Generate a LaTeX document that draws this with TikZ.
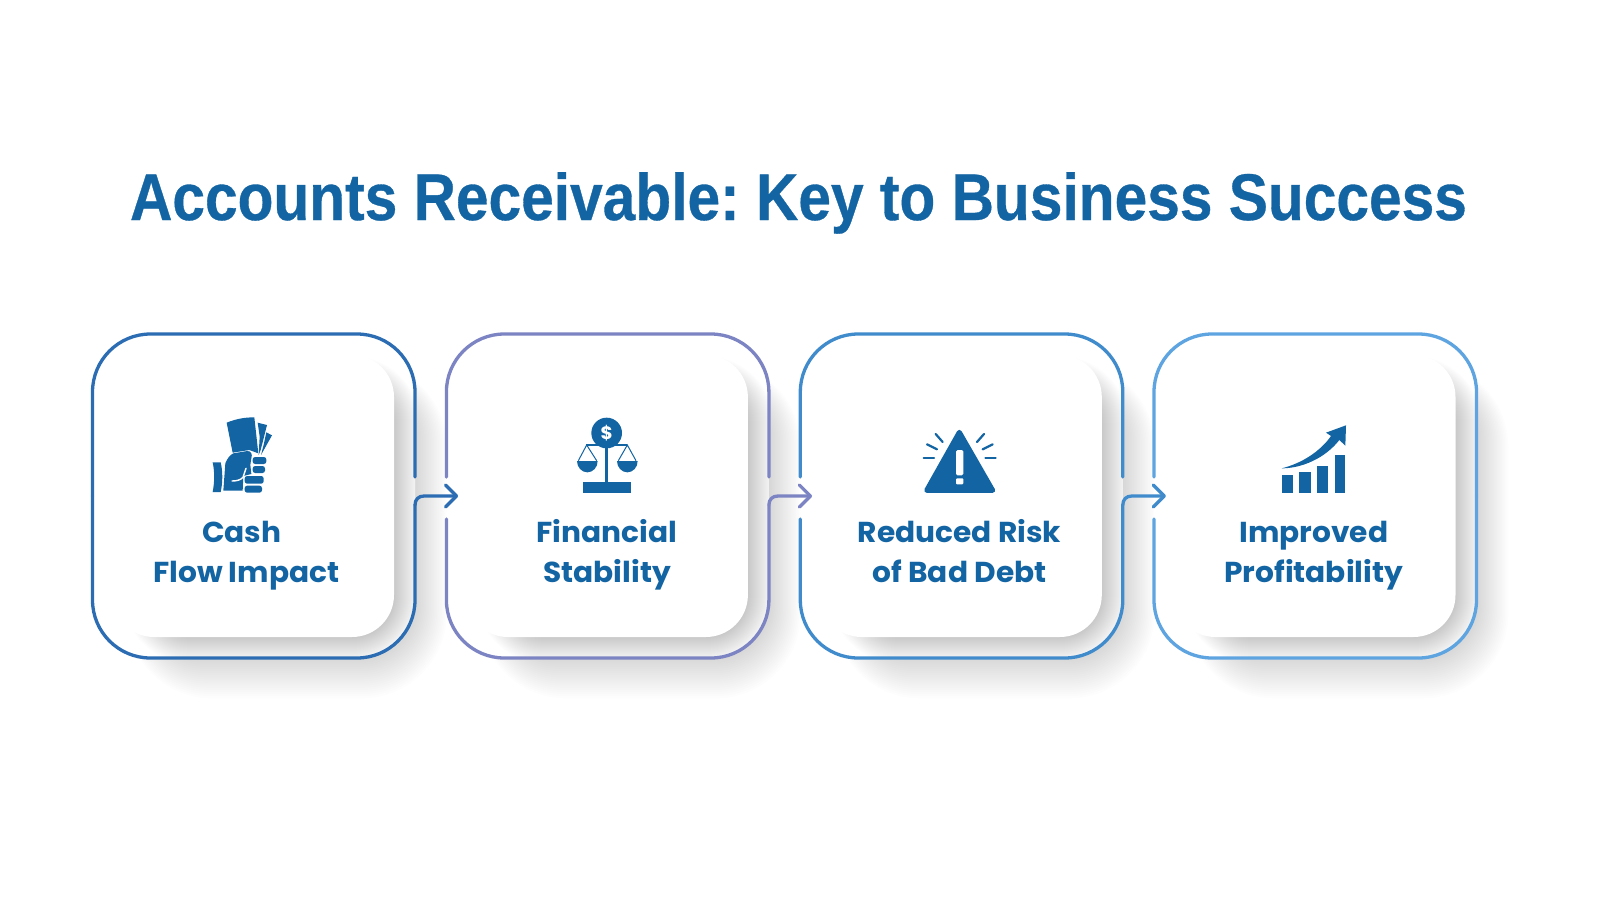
\documentclass[tikz,border=0pt]{standalone}
\usepackage{fontspec}
\setmainfont{Liberation Sans}[FakeStretch=0.889,BoldFeatures={FakeBold=0.5}]
\newfontfamily\labelfont{Poppins}[FakeStretch=1.03]
\definecolor{inkblue}{HTML}{1264A3}
\definecolor{cA}{HTML}{2B6CB3}
\definecolor{cB}{HTML}{7C84C3}
\definecolor{cC}{HTML}{408BCC}
\definecolor{cD}{HTML}{5DA4E1}
\tikzset{
  innercard/.style={fill=white,minimum width=282pt,minimum height=282pt,rounded corners=42pt,inner sep=0pt,draw=none},
  cardlabel/.style={text=inkblue,align=center,anchor=base,inner sep=0pt,font=\labelfont\bfseries\fontsize{28.8}{40}\selectfont},
  titletext/.style={text=inkblue,anchor=base,inner sep=0pt,font=\bfseries\frenchspacing\fontsize{66}{70}\selectfont},
  outline/.style={line width=3.3pt,line cap=round,line join=round},
  ink/.style={fill=inkblue,draw=none},
  rayline/.style={draw=inkblue,line width=2.2pt,line cap=round},
}
% soft shadow cast outside a card
\newcommand{\outershadow}[1]{%
  \begin{scope}[shift={(#1,0)}]
    \foreach \i in {0,...,23}{
      \pgfmathsetmacro\rr{50+1.5*\i}
      \fill[black,fill opacity=.0065,rounded corners=\rr pt]
        (150-1.0*\i,385-1.0*\i) rectangle (410+1.6*\i,650+2.1*\i);
    }
  \end{scope}}
% white card area, inner shadow
\newcommand{\cardbase}[1]{%
  \begin{scope}[shift={(#1,0)}]
    \begin{scope}
      \clip[rounded corners=58pt] (92.5,334) rectangle (415,658);
      \fill[white] (92,334) rectangle (416,658);
      \foreach \i in {0,...,27}{
        \pgfmathsetmacro\rr{42+\i}
        \fill[black,fill opacity=.0095,rounded corners=\rr pt]
          (150-1.0*\i,382-.95*\i) rectangle (394+\i,637+\i);
      }
    \end{scope}
  \end{scope}}
% outline: #1 shift, #2 colour, #3 gap at left, #4 arrow on the right, #5 id
\newcommand{\cardline}[5]{%
  \begin{scope}[shift={(#1,0)}]
    \ifnum#3=1 \def\leftA{477}\def\leftB{519}\else \def\leftA{496}\def\leftB{496}\fi
    \ifnum#4=1 \def\rightA{477}\def\rightB{505}\else \def\rightA{496}\def\rightB{496}\fi
    \draw[outline,draw=#2,rounded corners=58pt] (92.5,\leftA) -- (92.5,334) -- (415,334) -- (415,\rightA);
    \draw[outline,draw=#2,rounded corners=58pt] (92.5,\leftB) -- (92.5,658) -- (415,658) -- (415,\rightB);
    \ifnum#4=1
      \coordinate (arrowstart#5) at (415,505);
      \coordinate (arrowtip#5) at (456.5,496);
      \coordinate (barbtop#5) at (445.5,485);
      \coordinate (barbbot#5) at (445.5,507);
      \draw[outline,draw=#2] (arrowstart#5) .. controls (415,499.5) and (418.5,496) .. (424,496) -- (arrowtip#5);
      \draw[outline,draw=#2] (barbtop#5) -- (arrowtip#5) -- (barbbot#5);
    \fi
  \end{scope}}
\begin{document}
\begin{tikzpicture}[x=1pt,y=-1pt]
\useasboundingbox (0,0) rectangle (1600,900);
\fill[white] (0,0) rectangle (1600,900);

\node[titletext] (title) at (798.5,220) {Accounts Receivable: Key to Business Success};

\begin{scope}
  \clip (0,0) rectangle (1510,900);
  \outershadow{0}
  \outershadow{353.9}
  \outershadow{707.8}
  \outershadow{1061.5}
\end{scope}

\cardbase{0}
\cardbase{353.9}
\cardbase{707.8}
\cardbase{1061.5}

\node[innercard] (card1) at (253,496) {};
\node[innercard] (card2) at (606.9,496) {};
\node[innercard] (card3) at (960.8,496) {};
\node[innercard] (card4) at (1314.5,496) {};

\cardline{0}{cA}{0}{1}{1}
\cardline{353.9}{cB}{1}{1}{2}
\cardline{707.8}{cC}{1}{1}{3}
\cardline{1061.5}{cD}{1}{0}{4}

\node[cardlabel] (label1) at (246.3,582) {Cash\hspace*{9pt}\\Flow Impact};
\node[cardlabel] (label2) at (607,582) {Financial\\Stability};
\node[cardlabel] (label3) at (959.5,582) {Reduced Risk\\of Bad Debt};
\node[cardlabel] (label4) at (1313.7,582) {Improved\\Profitability};

% hand with banknotes
\begin{scope}[shift={(190,400)},scale=1/3]
  \fill[ink] (110,68) .. controls (140,56) and (165,52) .. (193,52) -- (205,160) -- (178,150) -- (128,158) -- cycle;
  \fill[ink] (203,68) -- (231,75) -- (212,150) -- (206,165) -- (209,110) -- cycle;
  \fill[ink] (229,97) -- (246,106) -- (213,165) -- (222,130) -- cycle;
  \fill[ink] (68,187) -- (92,187) .. controls (99,215) and (98,250) .. (92,276) -- (68,276) .. controls (74,245) and (74,215) .. (68,187) -- cycle;
  \fill[ink] (100,272) -- (106,190) .. controls (112,175) and (120,165) .. (130,160) -- (172,153) .. controls (183,153) and (188,162) .. (184,175) -- (181,195) -- (184,222) -- (160,228) -- (158,272) -- cycle;
  \draw[white,line width=1.4pt,line cap=round] (126,243) .. controls (140,243) and (152,240) .. (159,232) -- (168,205);
  \fill[ink,rounded corners=2.5pt] (188,171) rectangle (229,192);
  \fill[ink,rounded corners=2.5pt] (188,198) rectangle (225,219);
  \fill[ink,rounded corners=2.5pt] (164,228) rectangle (221,251);
  \fill[ink,rounded corners=2.5pt] (164,257) rectangle (216,278);
\end{scope}

% scales with coin
\begin{scope}[shift={(550,400)},scale=1/3]
  \fill[ink] (170,99) circle (46);
  \node[text=white,font=\labelfont\bfseries\fontsize{18}{18}\selectfont,inner sep=0pt] (coin) at (170,100) {\$};
  \draw[draw=inkblue,line width=1.6pt] (108,135) -- (232,135);
  \draw[draw=inkblue,line width=2.4pt] (170,140) -- (170,247);
  \fill[ink] (100,245) rectangle (242,280);
  \draw[draw=inkblue,line width=1pt] (85,182) -- (110,135) -- (140,182);
  \draw[draw=inkblue,line width=1pt] (205,182) -- (232,135) -- (258,182);
  \fill[ink] (81,183) arc[start angle=180,end angle=360,x radius=31,y radius=-34] -- cycle;
  \fill[ink] (201,183) arc[start angle=180,end angle=360,x radius=31,y radius=-34] -- cycle;
\end{scope}

% warning triangle
\begin{scope}[shift={(905,410)},scale=1/3]
  \filldraw[draw=inkblue,fill=inkblue,line width=5pt,line join=round] (163,67) -- (65,241) -- (263,241) -- cycle;
  \fill[white,rounded corners=1.5pt] (153,120) rectangle (175,196);
  \fill[white,rounded corners=1pt] (153,205) rectangle (175,223);
  \draw[rayline] (92,72) -- (113,96);
  \draw[rayline] (66,103) -- (96,118);
  \draw[rayline] (56,143) -- (87,143);
  \draw[rayline] (237,72) -- (216,96);
  \draw[rayline] (263,103) -- (233,118);
  \draw[rayline] (272,143) -- (241,143);
\end{scope}

% rising bars
\begin{scope}[shift={(1260,410)},scale=1/3]
  \fill[ink] (66,194) rectangle (98,248);
  \fill[ink] (118,187) rectangle (152,248);
  \fill[ink] (171,168) rectangle (205,248);
  \fill[ink] (225,135) rectangle (256,248);
  \fill[ink] (65,175) .. controls (125,160) and (180,125) .. (213,78) -- (198,68) -- (258,46) -- (256,107) -- (238,90) .. controls (195,145) and (125,175) .. (65,175) -- cycle;
\end{scope}
\end{tikzpicture}
\end{document}
